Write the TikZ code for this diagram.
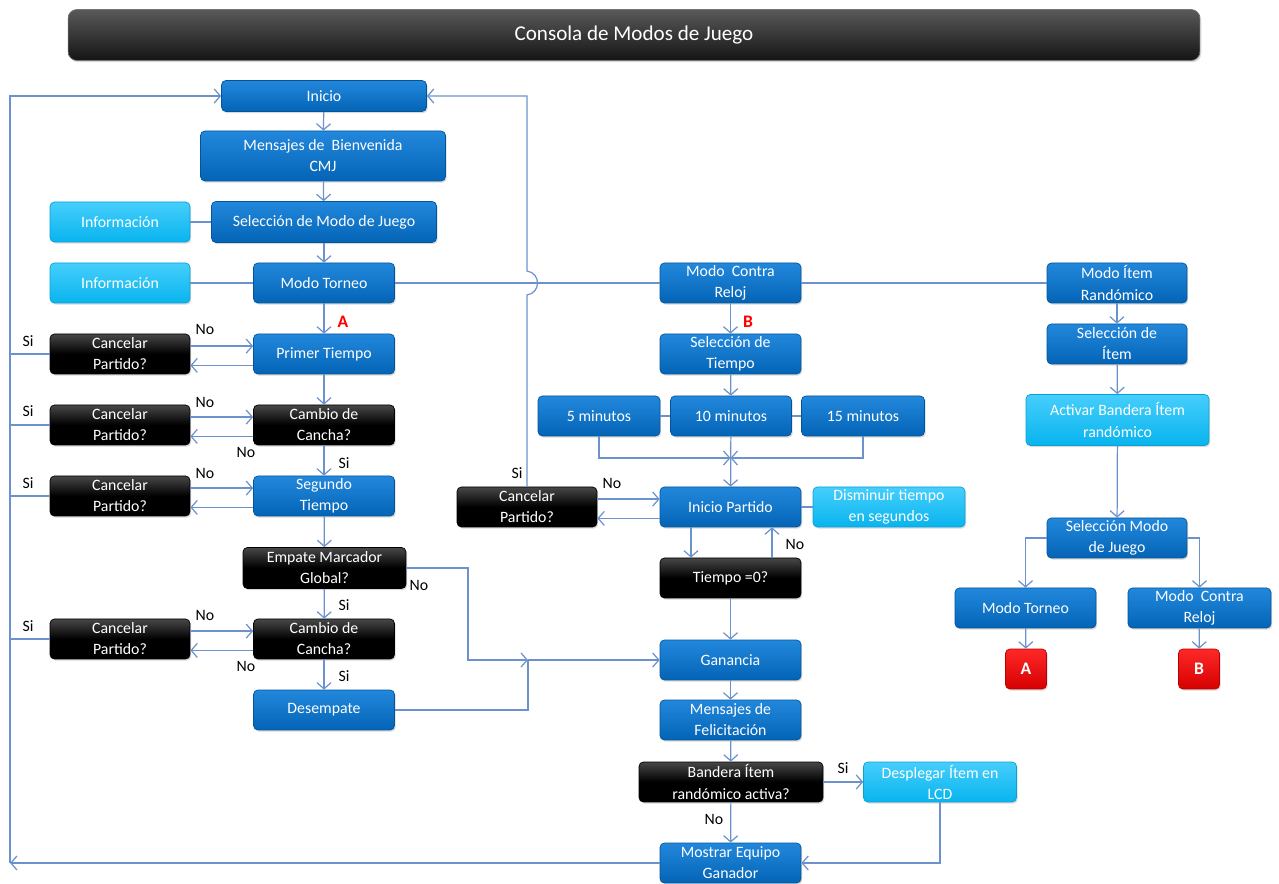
\documentclass[tikz,border=0pt]{standalone}
\usepackage{fontspec}
\setmainfont{Carlito}
\usetikzlibrary{arrows.meta,shadows}
\definecolor{bluetop}{RGB}{34,136,220}
\definecolor{bluebot}{RGB}{4,100,182}
\definecolor{cyantop}{RGB}{70,206,252}
\definecolor{cyanbot}{RGB}{8,180,238}
\definecolor{redtop}{RGB}{255,40,40}
\definecolor{redbot}{RGB}{215,0,0}
\definecolor{linecol}{RGB}{108,146,206}
\tikzset{
  base/.style={rounded corners=2.5pt,text=white,align=center,inner sep=1pt,
    font=\fontsize{9}{12}\selectfont,minimum height=0.8cm,
    drop shadow={shadow xshift=0.7pt,shadow yshift=-0.9pt,opacity=0.3}},
  bluebox/.style={base,top color=bluetop,bottom color=bluebot,draw=bluebot!85!black,minimum width=2.82cm},
  cyanbox/.style={base,top color=cyantop,bottom color=cyanbot,draw=cyanbot!90!black,minimum width=2.8cm},
  askbox/.style={base,top color=black!72,bottom color=black,middle color=black,draw=black,minimum width=2.8cm},
  redbox/.style={base,top color=redtop,bottom color=redbot,draw=redbot!85!black,minimum width=0.82cm,
    font=\fontsize{10}{12}\selectfont\bfseries},
  lbl/.style={font=\fontsize{9}{11}\selectfont,inner sep=0pt},
  redmark/.style={font=\fontsize{10}{12}\selectfont\bfseries,text=red,inner sep=0pt},
  ln/.style={draw=linecol,line width=0.7pt},
  arr/.style={ln,-{Straight Barb[length=3.5pt,width=8pt,line width=0.7pt]}},
}
\begin{document}
\begin{tikzpicture}[x=0.02cm,y=-0.02cm]
\useasboundingbox (0,0) rectangle (1279,884);
% title
\node (title) at (634,35) [rounded corners=5pt,top color=black!65,bottom color=black!92,draw=black!55,
  minimum width=22.64cm,minimum height=1.02cm,text=white,font=\fontsize{12}{14}\selectfont,
  drop shadow={shadow xshift=0.8pt,shadow yshift=-1pt,opacity=0.3}] {Consola de Modos de Juego};
% modo torneo column
\node (ini) at (324,96) [bluebox,minimum width=4.1cm,minimum height=0.62cm] {Inicio};
\node (mbv) at (323,156) [bluebox,minimum width=4.9cm,minimum height=1cm] {Mensajes de\ \ Bienvenida\\CMJ};
\node (sel) at (324,222) [bluebox,minimum width=4.5cm,minimum height=0.82cm] {Selección de Modo de Juego};
\node (inf1) at (120,222) [cyanbox] {Información};
\node (inf2) at (120,283) [cyanbox] {Información};
\node (mt) at (324,283) [bluebox] {Modo Torneo};
\node (pt) at (324,354) [bluebox] {Primer Tiempo};
\node (cc1) at (324,425) [askbox,minimum width=2.82cm] {Cambio de\\Cancha?};
\node (seg) at (324,496) [bluebox] {Segundo\\Tiempo};
\node (emp) at (324.5,568) [askbox,minimum width=3.26cm,minimum height=0.82cm] {Empate Marcador\\Global?};
\node (cc2) at (324,639) [askbox,minimum width=2.82cm] {Cambio de\\Cancha?};
\node (des) at (324,710) [bluebox] {Desempate};
\node (can1) at (120,354) [askbox] {Cancelar\\Partido?};
\node (can2) at (120,425) [askbox] {Cancelar\\Partido?};
\node (can3) at (120,496) [askbox] {Cancelar\\Partido?};
\node (can4) at (120,639) [askbox] {Cancelar\\Partido?};
% modo contra reloj column
\node (mcr) at (730.5,283) [bluebox] {Modo\ \ Contra\\Reloj};
\node (st) at (730.5,354) [bluebox] {Selección de\\Tiempo};
\node (m5) at (599,416) [bluebox,minimum width=2.44cm] {5 minutos};
\node (m10) at (731,416) [bluebox,minimum width=2.42cm] {10 minutos};
\node (m15) at (863,416) [bluebox,minimum width=2.46cm] {15 minutos};
\node (ip) at (730.5,507) [bluebox] {Inicio Partido};
\node (can5) at (527,507) [askbox] {Cancelar\\Partido?};
\node (dis) at (889,507) [cyanbox,minimum width=3.04cm] {Disminuir tiempo\\en segundos};
\node (t0) at (730.5,578) [askbox,minimum width=2.82cm] {Tiempo =0?};
\node (gan) at (730.5,660) [bluebox] {Ganancia};
\node (fel) at (730.5,720) [bluebox] {Mensajes de\\Felicitación};
\node (ban) at (731,782) [askbox,minimum width=3.68cm] {Bandera Ítem\\randómico activa?};
\node (dsp) at (940,782) [cyanbox,minimum width=3.06cm] {Desplegar Ítem en\\LCD};
\node (mos) at (730.5,863) [bluebox] {Mostrar Equipo\\Ganador};
% modo item column
\node (mir) at (1117,283) [bluebox,minimum width=2.8cm] {Modo Ítem\\Randómico};
\node (sit) at (1117,344) [bluebox,minimum width=2.8cm] {Selección de\\Ítem};
\node (abr) at (1117.5,420) [cyanbox,minimum width=3.66cm,minimum height=1.02cm] {Activar Bandera Ítem\\randómico};
\node (smj) at (1117,538) [bluebox,minimum width=2.8cm] {Selección Modo\\de Juego};
\node (mt2) at (1025.5,608) [bluebox] {Modo Torneo};
\node (mcr2) at (1199.5,608) [bluebox,minimum width=2.86cm] {Modo\ \ Contra\\Reloj};
\node (ra) at (1026,669) [redbox] {A};
\node (rb) at (1199,669) [redbox] {B};
% labels
\node (lA) at (343,322) [redmark] {A};
\node (lB) at (748,322) [redmark] {B};
\node (no1) at (205,329) [lbl] {No};
\node (no2) at (205,402) [lbl] {No};
\node (no3) at (246,452) [lbl] {No};
\node (no4) at (205,473) [lbl] {No};
\node (no5) at (205,615) [lbl] {No};
\node (no6) at (246,666) [lbl] {No};
\node (no7) at (419,585) [lbl] {No};
\node (no8) at (612,483) [lbl] {No};
\node (no9) at (795,544) [lbl] {No};
\node (no10) at (714,819) [lbl] {No};
\node (si1) at (28,341) [lbl] {Si};
\node (si2) at (28,411) [lbl] {Si};
\node (si3) at (28,483) [lbl] {Si};
\node (si4) at (28,626) [lbl] {Si};
\node (si5) at (344,463) [lbl] {Si};
\node (si6) at (344,605) [lbl] {Si};
\node (si7) at (344,676) [lbl] {Si};
\node (si8) at (517,473) [lbl] {Si};
\node (si9) at (843,768) [lbl] {Si};
% helper points
\coordinate (lft) at (10,0);
\coordinate (bot) at (10,863);
\coordinate (mrg) at (730.5,458);
\coordinate (nb) at (468,660);
\coordinate (j1) at (528,660);
\coordinate (hopa) at (527,295);
\coordinate (hopb) at (527,271);
% connectors
\draw[arr] (ini) -- (mbv);
\draw[arr] (mbv) -- (sel);
\draw[arr] (sel) -- (mt);
\draw[ln] (inf1) -- (sel);
\draw[ln] (inf2) -- (mt);
\draw[ln] (mt) -- (mcr);
\draw[ln] (mcr) -- (mir);
\draw[arr] (mt) -- (pt);
\draw[arr] (pt) -- (cc1);
\draw[arr] (cc1) -- (seg);
\draw[arr] (seg) -- (emp);
\draw[arr] (emp) -- (cc2);
\draw[arr] (cc2) -- (des);
\foreach \c/\b in {can1/pt,can2/cc1,can3/seg,can4/cc2}{
  \draw[arr] ([yshift=4.5pt]\c.east) -- ([yshift=4.5pt]\b.west);
  \draw[arr] ([yshift=-6.5pt]\b.west) -- ([yshift=-6.5pt]\c.east);
  \draw[ln] (\c.west) -- (\c.west -| lft);
}
\draw[arr] (mos) -- (bot);
\draw[arr] (bot) |- (ini.west);
\draw[arr] (emp.east) -| (nb) -- (j1);
\draw[ln] (des.east) -| (j1);
\draw[arr] (j1) -- (gan);
% contra reloj
\draw[arr] (mcr) -- (st);
\draw[arr] (st) -- (m10);
\draw[ln] (m5) -- (m10);
\draw[ln] (m10) -- (m15);
\draw[arr] (m5.south) |- (mrg);
\draw[arr] (m15.south) |- (mrg);
\draw[arr] (m10) -- (ip);
\draw[ln] (ip) -- (dis);
\draw[arr] ([yshift=4.5pt]can5.east) -- ([yshift=4.5pt]ip.west);
\draw[arr] ([yshift=-6.5pt]ip.west) -- ([yshift=-6.5pt]can5.east);
\draw[arr] (can5.north) -- (hopa) .. controls (541,293) and (541,273) .. (hopb) |- (ini.east);
\draw[arr] ([xshift=-0.79cm]ip.south) -- ([xshift=-0.79cm]t0.north);
\draw[arr] ([xshift=0.83cm]t0.north) -- ([xshift=0.83cm]ip.south);
\draw[arr] (t0) -- (gan);
\draw[arr] (gan) -- (fel);
\draw[arr] (fel) -- (ban);
\draw[arr] (ban) -- (dsp);
\draw[arr] (ban) -- (mos);
\draw[arr] (dsp.south) |- (mos.east);
% item randomico
\draw[arr] (mir) -- (sit);
\draw[arr] (sit) -- (abr);
\draw[arr] (abr) -- (smj);
\draw[arr] (smj.west) -| (mt2.north);
\draw[arr] (smj.east) -| (mcr2.north);
\draw[arr] (mt2) -- (ra);
\draw[arr] (mcr2) -- (rb);
\end{tikzpicture}
\end{document}
